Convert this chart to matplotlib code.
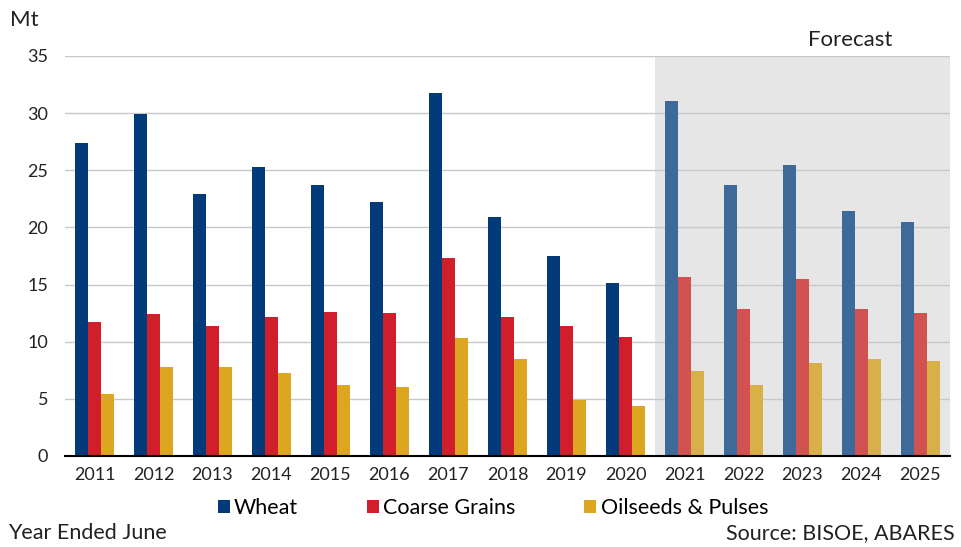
import matplotlib
matplotlib.use("Agg")
import matplotlib.pyplot as plt
from matplotlib.patches import Patch
import numpy as np

years = ["2011", "2012", "2013", "2014", "2015", "2016", "2017", "2018",
         "2019", "2020", "2021", "2022", "2023", "2024", "2025"]
wheat = [27.4, 29.9, 22.9, 25.3, 23.7, 22.2, 31.8, 20.9, 17.5, 15.1,
         31.1, 23.7, 25.5, 21.4, 20.5]
coarse = [11.7, 12.4, 11.4, 12.2, 12.6, 12.5, 17.3, 12.2, 11.4, 10.4,
          15.7, 12.9, 15.5, 12.9, 12.5]
oilseeds = [5.4, 7.8, 7.8, 7.3, 6.2, 6.0, 10.3, 8.5, 4.9, 4.4,
            7.4, 6.2, 8.1, 8.5, 8.3]
series_names = ["Wheat", "Coarse Grains", "Oilseeds & Pulses"]
first_forecast = 10

plt.rcParams['font.family'] = ['Lato', 'DejaVu Sans']

colors = ["#023a7a", "#d11e2b", "#dca621"]
fc_colors = ["#3e6a9a", "#d25252", "#d8b04a"]

fig = plt.figure(figsize=(9.61, 5.47), dpi=100)
ax = fig.add_axes([65/961, 1-456/547, (950-65)/961, 400/547])

x = np.arange(len(years))
w = 0.225
ax.axvspan(first_forecast - 0.5, len(years) - 0.5, ymin=0, ymax=1,
           color="#e6e6e6", zorder=0, lw=0)

for i, (vals, c, fc) in enumerate(zip([wheat, coarse, oilseeds], colors, fc_colors)):
    cols = [c if k < first_forecast else fc for k in range(len(years))]
    ax.bar(x + (i - 1) * w, vals, width=w, color=cols, zorder=3, lw=0)

ax.set_xlim(-0.5, len(years) - 0.5)
ax.set_ylim(0, 35)
ax.set_yticks(range(0, 36, 5))
ax.set_xticks(x)
ax.set_xticklabels(years)
ax.tick_params(axis='both', length=0, labelsize=13, colors="#222222")
ax.tick_params(axis='y', pad=12)
ax.tick_params(axis='x', pad=8)
ax.yaxis.grid(True, color="#c8c8c8", lw=1, zorder=1)
ax.set_axisbelow(True)
for s in ["top", "right", "left"]:
    ax.spines[s].set_visible(False)
ax.spines["bottom"].set_color("black")
ax.spines["bottom"].set_linewidth(1.5)
ax.spines["bottom"].set_zorder(5)

fig.text(10/961, 1-20/547, "Mt", fontsize=16, va="center", ha="left", color="#222222")
fig.text(850/961, 1-40/547, "Forecast", fontsize=16, va="center", ha="center", color="#222222")
fig.text(8/961, 1-533/547, "Year Ended June", fontsize=15.5, va="center", ha="left", color="#222222")
fig.text(955/961, 1-533/547, "Source: BISOE, ABARES", fontsize=15.5, va="center", ha="right", color="#222222")

handles = [Patch(facecolor=c, label=n) for c, n in zip(colors, series_names)]
leg = fig.legend(handles=handles, loc="center", bbox_to_anchor=(493/961, 1-508/547),
                 ncol=3, frameon=False, fontsize=15.5, handlelength=0.55, handleheight=0.55,
                 handletextpad=0.2, columnspacing=3.2)

fig.savefig("out.png", dpi=100)
